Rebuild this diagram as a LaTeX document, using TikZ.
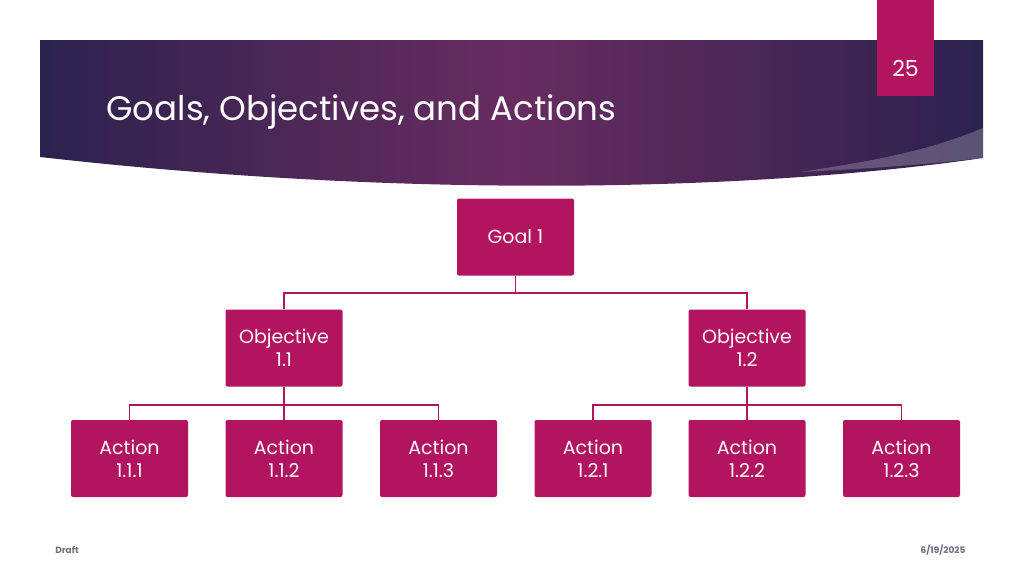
\documentclass[tikz,border=0pt]{standalone}
\usepackage{fontspec}
\setmainfont{Poppins}
\usetikzlibrary{positioning}
\definecolor{magentabox}{RGB}{178,20,96}
\definecolor{banneredge}{RGB}{44,34,78}
\definecolor{bannermid}{RGB}{104,44,96}
\definecolor{footgrey}{RGB}{110,110,130}
\tikzset{chartbox/.style={rectangle, rounded corners=2pt, fill=magentabox, text=white, minimum width=117pt, minimum height=77pt, align=center, font=\fontsize{19}{23}\selectfont, inner sep=0pt},
  linkline/.style={draw=magentabox, line width=1.6pt}}
\begin{document}
\begin{tikzpicture}[x=1pt, y=-1pt]
    \useasboundingbox (0,0) rectangle (1024,576);
    \fill[white] (0,0) rectangle (1024,576);
    % Banner
    \shade[left color=banneredge, right color=banneredge, middle color=bannermid]
        (40,40) -- (983,40) -- (983,158) .. controls (760,190) and (420,200) .. (40,157) -- cycle;
    \fill[white, opacity=0.22] (983,128) .. controls (930,150) and (880,160) .. (800,172) .. controls (880,168) and (930,164) .. (983,158) -- cycle;
    \node[anchor=west, text=white, font=\fontsize{34}{40}\selectfont] (title) at (103,112) {Goals, Objectives, and Actions};
    % Page number
    \fill[magentabox] (877,0) rectangle (934,96);
    \node[text=white, font=\fontsize{22}{26}\selectfont] (page) at (905.5,68) {25};
    % Boxes
    \node[chartbox] (goal) at (515.5,237) {Goal 1};
    \node[chartbox] (obj1) at (284,348) {Objective\\1.1};
    \node[chartbox] (obj2) at (747,348) {Objective\\1.2};
    \foreach \name/\x/\txt in {a111/129.5/1.1.1, a112/284/1.1.2, a113/438.5/1.1.3,
        a121/593/1.2.1, a122/747/1.2.2, a123/901.5/1.2.3} {
        \node[chartbox] (\name) at (\x,458.5) {Action\\\txt};
    }
    % Connectors
    \draw[linkline] (goal.south) -- ++(0,17) -| (obj1.north);
    \draw[linkline] (goal.south) -- ++(0,17) -| (obj2.north);
    \foreach \child in {a111, a112, a113} {
        \draw[linkline] (obj1.south) -- ++(0,18) -| (\child.north);
    }
    \foreach \child in {a121, a122, a123} {
        \draw[linkline] (obj2.south) -- ++(0,18) -| (\child.north);
    }
    % Footer
    \node[text=footgrey, font=\fontsize{9}{11}\selectfont\bfseries] (draft) at (67,550) {Draft};
    \node[text=footgrey, font=\fontsize{9}{11}\selectfont\bfseries] (date) at (943,550) {6/19/2025};
\end{tikzpicture}
\end{document}
